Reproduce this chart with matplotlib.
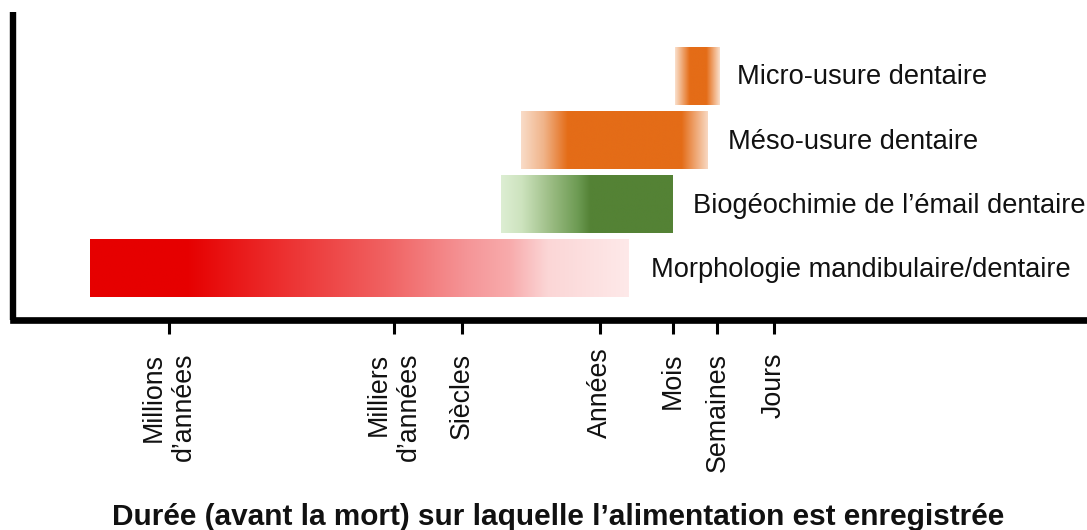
import numpy as np
import matplotlib
matplotlib.use("Agg")
import matplotlib.pyplot as plt
from matplotlib.colors import to_rgb

plt.rcParams['font.family'] = ['Liberation Sans', 'DejaVu Sans']

# ---- data (x in decades of time before death, right = shorter) ----
categories = ["Morphologie mandibulaire/dentaire",
              "Biogéochimie de l’émail dentaire",
              "Méso-usure dentaire",
              "Micro-usure dentaire"]
starts = [-7.39, -1.43, -1.14, 1.09]
ends = [0.41, 1.06, 1.57, 1.74]

tick_labels = ["Millions\nd’années", "Milliers\nd’années", "Siècles",
               "Années", "Mois", "Semaines", "Jours"]
tick_pos = [-6.25, -2.99, -2.0, 0.0, 1.06, 1.70, 2.52]

xlabel = "Durée (avant la mort) sur laquelle l’alimentation est enregistrée"

# gradient stops (fraction along bar, colour)
gradients = [
    [(0.0, "#e60000"), (0.18, "#e60000"), (0.35, "#ec2e2e"), (0.55, "#f06262"),
     (0.70, "#f59597"), (0.78, "#f8abac"), (0.85, "#fbd6d6"), (1.0, "#fee9e9")],
    [(0.0, "#ddeed3"), (0.12, "#cde3be"), (0.30, "#98ba80"), (0.45, "#6c9a52"),
     (0.52, "#548235"), (1.0, "#548235")],
    [(0.0, "#f9dcc8"), (0.12, "#f0b48a"), (0.25, "#e46c17"), (0.86, "#e46c17"),
     (1.0, "#f8d8c2")],
    [(0.0, "#fae0cc"), (0.33, "#e46c17"), (0.70, "#e46c17"), (1.0, "#fae0cc")],
]

fig = plt.figure(figsize=(10.87, 5.30), dpi=100)
W, H = 1087, 530
ax = fig.add_axes([13 / W, (H - 319.5) / H, 1 - 13 / W, (319.5 - 12) / H])

bar_h = 0.89
label_off = [16, 14, 14.5, 12.5]
for i, (s, e, stops) in enumerate(zip(starts, ends, gradients)):
    fr = np.linspace(0, 1, 400)
    pts = np.array([p for p, _ in stops])
    cols = np.array([to_rgb(c) for _, c in stops])
    img = np.stack([np.interp(fr, pts, cols[:, k]) for k in range(3)], axis=-1)
    ax.imshow(img[np.newaxis, :, :], extent=[s, e, i - bar_h / 2, i + bar_h / 2],
              aspect='auto', interpolation='bilinear', zorder=2)
    ax.annotate(categories[i], xy=(e, i), xytext=(label_off[i], -1),
                textcoords='offset points',
                ha='left', va='center', fontsize=19.6, color='#111111')

ax.set_xlim(-8.507, 7.058)
ax.set_ylim(-0.8, 4.0)

for side in ['top', 'right']:
    ax.spines[side].set_visible(False)
ax.spines['left'].set_linewidth(4.6)
ax.spines['bottom'].set_linewidth(4.8)
ax.spines['bottom'].set_capstyle('projecting')
ax.spines['left'].set_capstyle('butt')

ax.set_yticks([])
ax.set_xticks(tick_pos)
ax.set_xticklabels([])
ax.tick_params(axis='x', direction='out', length=10, width=2.2, color='black')

for p, lab in zip(tick_pos, tick_labels):
    off = -20 if lab == "Années" else -24
    ax.annotate(lab, xy=(p, 0), xycoords=ax.get_xaxis_transform(),
                xytext=(0, off), textcoords='offset points',
                rotation=90, ha='center', va='top', multialignment='right',
                fontsize=19.3, linespacing=1.2, color='#111111')

fig.text(558 / W, (H - 517) / H, xlabel, ha='center', va='center',
         fontsize=21.4, fontweight='bold', color='#111111')

fig.savefig("out.png", dpi=100)
